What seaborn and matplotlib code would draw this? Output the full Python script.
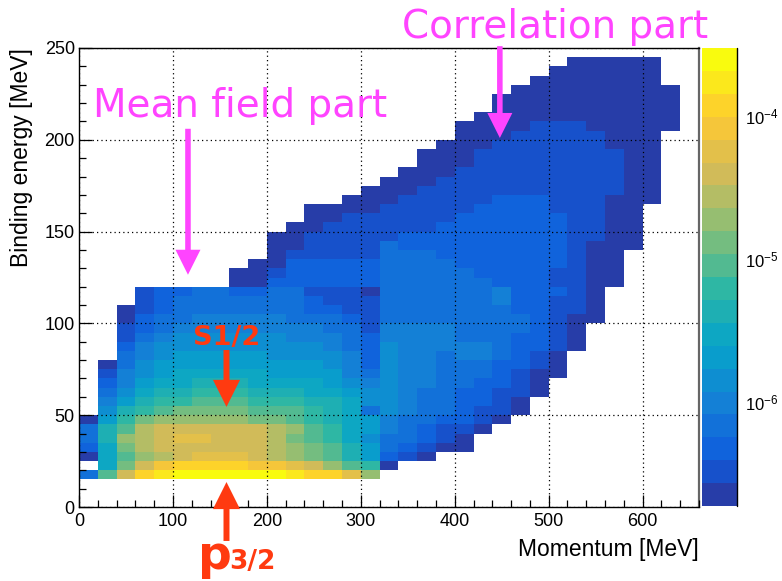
import numpy as np
import pandas as pd
import matplotlib
matplotlib.use("Agg")
import matplotlib.pyplot as plt
from matplotlib.colors import ListedColormap, LogNorm
from matplotlib.ticker import MultipleLocator, LogLocator, NullFormatter
import seaborn as sns

# Histogram binning (MeV)
P_BIN, E_BIN = 20, 5
P_RANGE = (0, 660)
E_RANGE = (0, 250)

# z-axis range and number of colour contours of the palette
Z_MIN, Z_MAX = 1.89e-7, 2.98e-4
N_CONTOURS = 20

# Histogram rows: lower binding-energy edge, momentum of the first filled bin,
# and the contour band of each consecutive filled bin (0-9, then a-j = 10-19)
row_energy = [240, 235, 230, 225, 220, 215, 210, 205, 200, 195, 190, 185, 180,
              175, 170, 165, 160, 155, 150, 145, 140, 135, 130, 125, 120, 115,
              110, 105, 100, 95, 90, 85, 80, 75, 70, 65, 60, 55, 50, 45, 40, 35,
              30, 25, 20, 15]
row_first_p = [520, 500, 480, 460, 440, 440, 420, 400, 400, 380, 360, 360, 340,
               320, 300, 280, 240, 240, 220, 200, 200, 200, 180, 160, 160, 60,
               60, 40, 40, 40, 40, 40, 40, 20, 20, 20, 20, 20, 20, 0, 0, 0,
               0, 0, 20, 0]
row_bands = [
    "00000",
    "000000",
    "0000000",
    "000000000",
    "0000000000",
    "0000000000",
    "00000000000",
    "000011100000",
    "00011111000",
    "000111111000",
    "0001111111100",
    "0001111111100",
    "00011111111100",
    "000111111111100",
    "0001111111111100",
    "00011111222111000",
    "000011111222211100",
    "001111112222221100",
    "0011111122222221100",
    "00111112222222221100",
    "00111132222222221000",
    "0111113332222222100",
    "00222223333222222100",
    "001222223333322221100",
    "002222223333332221100",
    "1223322331110333333422210",
    "1233333332111333333422110",
    "01233333332211333333322110",
    "02334444433321333333332100",
    "1234444444433144443333210",
    "1345555554443244443332210",
    "2455555555543254444432210",
    "345666665555425443443210",
    "0356666666665425443332210",
    "1456777776666435443332100",
    "246778887777654544332210",
    "357889998887765543322110",
    "46899aaa999887554332210",
    "589abbbbaaa987354332110",
    "069bcccccbba98764332210",
    "38adeeeeeedca976432110",
    "38cdeffeeedba97533210",
    "27bdeeeeeedcba8632100",
    "07acdefffedcba86210",
    "7beghhhhggfeca90",
    "3aehijjjjjjihhfc",
]

# Convert contour bands to z values (band centres on the log scale)
codes = "0123456789abcdefghij"
log_lo, log_hi = np.log10(Z_MIN), np.log10(Z_MAX)
band_w = (log_hi - log_lo) / N_CONTOURS
records = []
for e_low, p_start, bands in zip(row_energy, row_first_p, row_bands):
    for k, ch in enumerate(bands):
        level = codes.index(ch)
        records.append({
            "momentum": p_start + k * P_BIN + P_BIN / 2,
            "energy": e_low + E_BIN / 2,
            "z": 10 ** (log_lo + (level + 0.5) * band_w),
        })
df = pd.DataFrame(records)

# ROOT "bird" palette sampled at the contour colours
bird_stops = [0.0, 0.125, 0.25, 0.375, 0.5, 0.625, 0.75, 0.875, 1.0]
bird_r = [0.2082, 0.0592, 0.0780, 0.0232, 0.1802, 0.5301, 0.8186, 0.9956, 0.9764]
bird_g = [0.1664, 0.3599, 0.5041, 0.6419, 0.7178, 0.7492, 0.7328, 0.7862, 0.9832]
bird_b = [0.5293, 0.8684, 0.8385, 0.7914, 0.6425, 0.4662, 0.3499, 0.1968, 0.0539]
pos = np.array([int((i + 0.99) * 255 / N_CONTOURS) for i in range(N_CONTOURS)]) / 254
colors = np.column_stack([np.interp(pos, bird_stops, c) for c in (bird_r, bird_g, bird_b)])
cmap = ListedColormap(colors)
norm = LogNorm(Z_MIN, Z_MAX)

sns.set_theme(style="white")
plt.rcParams["font.family"] = ["Liberation Sans", "DejaVu Sans"]

W, H = 782, 581
fig = plt.figure(figsize=(W / 100, H / 100), dpi=100, facecolor="white")


def px_box(x0, y0, x1, y1):
    return [x0 / W, 1 - y1 / H, (x1 - x0) / W, (y1 - y0) / H]


ax = fig.add_axes(px_box(79, 48, 699, 507))
cax = fig.add_axes(px_box(702, 48, 737, 506))

x_edges = np.arange(P_RANGE[0], P_RANGE[1] + P_BIN, P_BIN)
y_edges = np.arange(E_RANGE[0], E_RANGE[1] + E_BIN, E_BIN)
sns.histplot(data=df, x="momentum", y="energy", weights="z",
             bins=(x_edges, y_edges), cmap=cmap, norm=norm,
             vmin=None, vmax=None, cbar=True, cbar_ax=cax, ax=ax)

ax.set_xlim(*P_RANGE)
ax.set_ylim(*E_RANGE)
ax.set_facecolor("white")

# Axes, ticks and grid
ax.xaxis.set_major_locator(MultipleLocator(100))
ax.xaxis.set_minor_locator(MultipleLocator(20))
ax.yaxis.set_major_locator(MultipleLocator(50))
ax.yaxis.set_minor_locator(MultipleLocator(10))
ax.tick_params(which="both", direction="in", bottom=True, left=True,
               top=False, right=False, colors="black", labelsize=13, width=0.9)
ax.tick_params(which="major", length=9)
ax.tick_params(which="minor", length=5)
ax.tick_params(axis="x", which="major", pad=4)
ax.tick_params(axis="y", which="major", pad=3)
ax.grid(True, which="major", color="black", linestyle=(0, (1, 2.5)), linewidth=0.9)
ax.set_axisbelow(False)
for side, sp in ax.spines.items():
    sp.set_visible(True)
    sp.set_color("black")
    sp.set_linewidth(1.0)
ax.spines["right"].set_color("#666666")
ax.spines["right"].set_linewidth(1.6)

ax.set_xlabel("Momentum [MeV]", loc="right", fontsize=16.5, labelpad=6, color="black")
ax.set_ylabel("Binding energy [MeV]", loc="top", fontsize=16.5, labelpad=8, color="black")

# Colour bar
cbar = ax.collections[0].colorbar
cbar.outline.set_visible(False)
cax.yaxis.set_minor_locator(LogLocator(base=10, subs=np.arange(2, 10) * 1.0))
cax.yaxis.set_minor_formatter(NullFormatter())
cax.tick_params(which="both", direction="in", right=True, left=False,
                colors="black", labelsize=12, width=0.9)
cax.tick_params(which="major", length=13.5, pad=6)
cax.tick_params(which="minor", length=6.5)
cax.plot([1, 1], [0, 1], transform=cax.transAxes, color="black", lw=1.0, clip_on=False)

# Annotations
MAGENTA = "#ff44ff"
RED = "#ff3a10"
ann_font = ["DejaVu Sans"]

ax.text(14.9, 212.4, "Mean field part", color=MAGENTA, fontsize=28,
        family=ann_font, clip_on=False)
ax.text(344, 255.3, "Correlation part", color=MAGENTA, fontsize=28,
        family=ann_font, clip_on=False)
ax.text(121, 88.2, "S1/2", color=RED, fontsize=19.5, fontweight="bold",
        family=ann_font, clip_on=False)
ax.text(127, -33.8, "p", color=RED, fontsize=34, fontweight="bold",
        family=ann_font, clip_on=False)
ax.text(160, -33.8, "3/2", color=RED, fontsize=19, fontweight="bold",
        family=ann_font, clip_on=False)


def arrow(x, y_from, y_to, color, head, tail):
    ax.annotate("", xy=(x, y_to), xytext=(x, y_from),
                arrowprops=dict(arrowstyle=f"simple,head_length={head},head_width={head},tail_width={tail}",
                                mutation_scale=1, lw=0, color=color,
                                shrinkA=0, shrinkB=0),
                annotation_clip=False)


arrow(116, 206, 126.5, MAGENTA, 18, 4.0)
arrow(448, 251, 201, MAGENTA, 18, 4.0)
arrow(157, 85.5, 54.5, RED, 19.5, 4.3)
arrow(157, -18.5, 13.6, RED, 19.5, 4.3)

fig.savefig("out.png", dpi=100, facecolor="white")
